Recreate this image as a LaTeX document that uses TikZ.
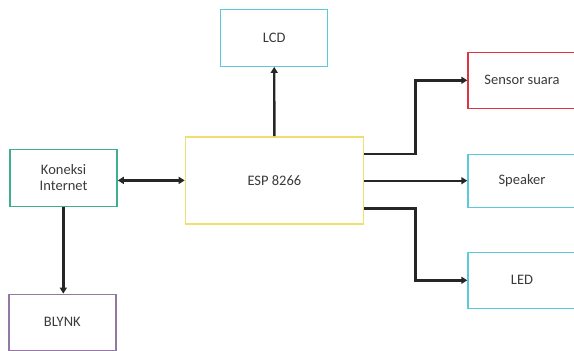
\documentclass[tikz,border=0pt]{standalone}
\usepackage{fontspec}
\setmainfont{Carlito}
\usetikzlibrary{arrows.meta}
\definecolor{cyanb}{HTML}{5CC8DC}
\definecolor{redb}{HTML}{E03440}
\definecolor{yelb}{HTML}{EEE070}
\definecolor{tealb}{HTML}{3FAE90}
\definecolor{purb}{HTML}{9478A4}
\definecolor{txt}{HTML}{3A3A3A}
\begin{document}
\begin{tikzpicture}[x=1pt,y=-1pt,
  blk/.style={draw=#1,line width=1.4pt,inner sep=0pt,font=\fontsize{14.5}{16}\selectfont,text=txt,align=center},
  conn/.style={line width=2.4pt,draw=black!85,-{Triangle[length=6pt,width=7pt]}},
  biconn/.style={line width=2.4pt,draw=black!85,{Triangle[length=6pt,width=7pt]}-{Triangle[length=6pt,width=7pt]}}]
\useasboundingbox (0,0) rectangle (574,351);
\node[blk=cyanb,minimum width=107pt,minimum height=57pt] (lcd) at (274.2,37.7) {LCD};
\node[blk=redb,minimum width=108pt,minimum height=56pt] (sensor) at (522,80.3) {Sensor suara};
\node[blk=cyanb,minimum width=108pt,minimum height=53pt] (speaker) at (522,180.7) {Speaker};
\node[blk=cyanb,minimum width=108pt,minimum height=56pt] (led) at (522,280.3) {LED};
\node[blk=yelb,minimum width=178pt,minimum height=87pt] (esp) at (274.4,180.4) {ESP 8266};
\node[blk=tealb,minimum width=107pt,minimum height=57pt] (kon) at (63.6,177.7) {Koneksi\\Internet};
\node[blk=purb,minimum width=107pt,minimum height=56pt] (blynk) at (62.3,322.3) {BLYNK};
\coordinate (c1) at (415.4,154);
\coordinate (c2) at (415.4,208.3);
\draw[conn] (esp.north) -- (lcd.south);
\draw[biconn] (kon.east |- esp.center) -- (esp.west |- esp.center);
\draw[conn] (kon.south -| 63.3,0) -- (blynk.north -| 63.3,0);
\draw[conn] (esp.east |- c1) -- (c1) |- (sensor.west);
\draw[conn] (esp.east |- speaker.west) -- (speaker.west);
\draw[conn] (esp.east |- c2) -- (c2) |- (led.west);
\end{tikzpicture}
\end{document}
